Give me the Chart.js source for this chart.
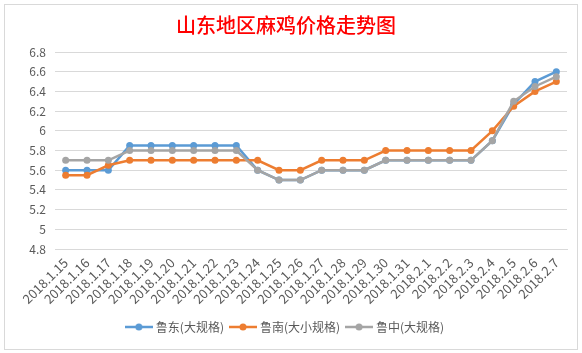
<!DOCTYPE html>
<html>
<head>
<meta charset="utf-8">
<script src="https://cdn.jsdelivr.net/npm/chart.js@4.4.1/dist/chart.umd.min.js"></script>
<style>
  html, body { margin: 0; padding: 0; background: #fff; }
  #box {
    position: absolute; left: 4px; top: 4px;
    width: 574px; height: 346px;
    border: 1px solid #d9d9d9; box-sizing: border-box;
  }
  #box canvas { display: block; }
</style>
</head>
<body>
<div id="box"><canvas id="priceChart" width="572" height="344"></canvas></div>
<script>
// categories and series
const dates = ['2018.1.15', '2018.1.16', '2018.1.17', '2018.1.18', '2018.1.19', '2018.1.20',
  '2018.1.21', '2018.1.22', '2018.1.23', '2018.1.24', '2018.1.25', '2018.1.26', '2018.1.27',
  '2018.1.28', '2018.1.29', '2018.1.30', '2018.1.31', '2018.2.1', '2018.2.2', '2018.2.3',
  '2018.2.4', '2018.2.5', '2018.2.6', '2018.2.7'];
const ludong = [5.6, 5.6, 5.6, 5.85, 5.85, 5.85, 5.85, 5.85, 5.85, 5.6, 5.5, 5.5,
  5.6, 5.6, 5.6, 5.7, 5.7, 5.7, 5.7, 5.7, 5.9, 6.27, 6.5, 6.6];
const lunan = [5.55, 5.55, 5.65, 5.7, 5.7, 5.7, 5.7, 5.7, 5.7, 5.7, 5.6, 5.6,
  5.7, 5.7, 5.7, 5.8, 5.8, 5.8, 5.8, 5.8, 6.0, 6.25, 6.4, 6.5];
const luzhong = [5.7, 5.7, 5.7, 5.8, 5.8, 5.8, 5.8, 5.8, 5.8, 5.6, 5.5, 5.5,
  5.6, 5.6, 5.6, 5.7, 5.7, 5.7, 5.7, 5.7, 5.9, 6.3, 6.45, 6.55];
const seriesNames = ['鲁东(大规格)', '鲁南(大小规格)', '鲁中(大规格)'];
const seriesColors = ['#5b9bd5', '#ed7d31', '#a5a5a5'];

const textColor = '#595959';
const gridColor = '#d9d9d9';
const cjk = '"Noto Sans CJK SC", "Microsoft YaHei", sans-serif';

// little line-with-dot marker for the legend, like excel draws it
function legendMarker(color) {
  const c = document.createElement('canvas');
  c.width = 28; c.height = 10;
  const g = c.getContext('2d');
  g.strokeStyle = color;
  g.lineWidth = 2.5;
  g.beginPath(); g.moveTo(0, 5); g.lineTo(28, 5); g.stroke();
  g.fillStyle = color;
  g.beginPath(); g.arc(14, 5, 3.5, 0, Math.PI * 2); g.fill();
  return c;
}

function makeSeries(i, values, order) {
  return {
    label: seriesNames[i],
    data: values,
    borderColor: seriesColors[i],
    backgroundColor: seriesColors[i],
    borderWidth: 2.5,
    pointRadius: 3.5,
    pointHoverRadius: 4,
    pointBorderWidth: 0,
    tension: 0,
    order: order
  };
}

const ctx = document.getElementById('priceChart').getContext('2d');
new Chart(ctx, {
  type: 'line',
  data: {
    labels: dates,
    datasets: [
      makeSeries(0, ludong, 2),
      makeSeries(1, lunan, 1),
      makeSeries(2, luzhong, 0)
    ]
  },
  options: {
    responsive: false,
    animation: false,
    layout: { padding: { left: 0, right: 10, top: 0, bottom: 6 } },
    plugins: {
      title: {
        display: true,
        text: '山东地区麻鸡价格走势图',
        color: '#ff0000',
        font: { family: cjk, size: 20, weight: 500 },
        padding: { top: 8, bottom: 15 }
      },
      legend: {
        position: 'bottom',
        labels: {
          usePointStyle: true,
          pointStyleWidth: 22,
          padding: 8,
          color: textColor,
          font: { family: cjk, size: 12 },
          generateLabels: (chart) => chart.data.datasets.map((ds, i) => ({
            text: ds.label,
            fontColor: textColor,
            pointStyle: legendMarker(seriesColors[i]),
            fillStyle: seriesColors[i],
            strokeStyle: seriesColors[i],
            lineWidth: 0,
            datasetIndex: i,
            hidden: false
          }))
        }
      },
      tooltip: { enabled: false }
    },
    scales: {
      x: {
        offset: true,
        grid: { display: false, drawTicks: false },
        border: { color: gridColor },
        ticks: {
          color: textColor,
          font: { family: cjk, size: 13 },
          minRotation: 45,
          maxRotation: 45,
          autoSkip: false,
          padding: 6
        },
        afterFit: (scale) => { scale.height = 64; }
      },
      y: {
        min: 4.8,
        max: 6.8,
        grid: { color: gridColor, drawTicks: false },
        border: { display: false },
        ticks: {
          stepSize: 0.2,
          color: textColor,
          font: { family: cjk, size: 12 },
          padding: 9,
          callback: (v) => Math.round(v * 10) / 10
        },
        afterFit: (scale) => { scale.width = 50; }
      }
    }
  }
});
</script>
</body>
</html>
